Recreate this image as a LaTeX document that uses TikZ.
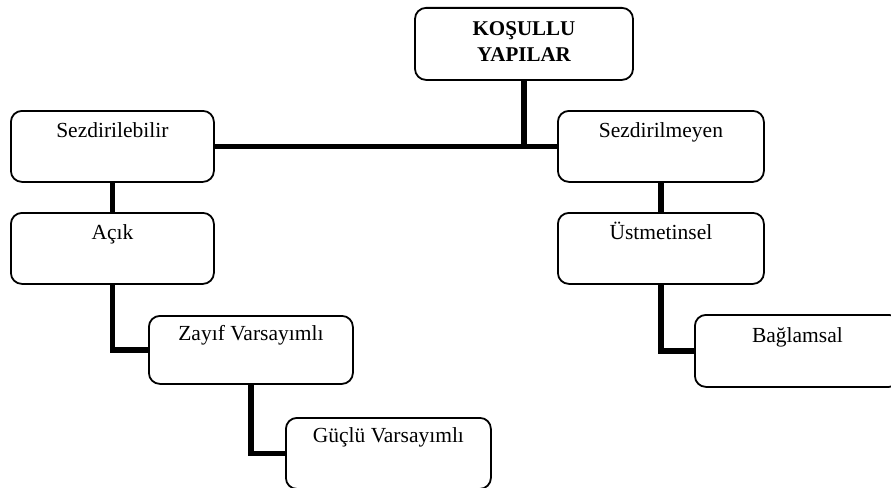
\documentclass[tikz,border=0pt]{standalone}
\usepackage{fontspec}
\setmainfont{Liberation Serif}
\tikzset{
  box/.style={draw=black, line width=1.8pt, rounded corners=11pt, fill=white,
    inner sep=0pt, anchor=north west, align=center,
    font=\fontsize{21.5}{25}\selectfont, text height=27pt, text depth=44pt},
  conn/.style={line width=5.8pt, draw=black},
}
\begin{document}
\begin{tikzpicture}[x=1pt,y=-1pt]
\useasboundingbox (0,0) rectangle (891,487);
% nodes
\node[box, anchor=north, text height=54pt, text depth=18pt, minimum width=218pt,
      font=\fontsize{21}{26}\selectfont\bfseries] (kosul) at (524,7) {KOŞULLU\\YAPILAR};
\node[box, minimum width=203pt] (sezb) at (10,110) {Sezdirilebilir};
\node[box, minimum width=203pt] (acik) at (10,212) {Açık};
\node[box, minimum width=206pt] (sezm) at (557,110) {Sezdirilmeyen};
\node[box, minimum width=206pt] (ust) at (557,212) {Üstmetinsel};
\node[box, minimum width=204pt, text height=25pt, text depth=43pt] (zayif) at (148,315) {Zayıf Varsayımlı};
\node[box, minimum width=205pt, text height=25pt, text depth=46pt] (guclu) at (285,417) {Güçlü Varsayımlı};
\node[box, minimum width=205pt, text height=28pt, text depth=44pt] (bag) at (694,314) {Bağlamsal};
% connectors
\draw[conn] (sezb.east) -- (sezm.west);
\draw[conn] (kosul.south) -- (kosul.south |- sezb.east);
\draw[conn] (sezb.south) -- (acik.north);
\draw[conn] (sezm.south) -- (ust.north);
\draw[conn] (acik.south) |- (zayif.west);
\draw[conn] (zayif.south) |- (guclu.west);
\draw[conn] (ust.south) |- (bag.west);
\end{tikzpicture}
\end{document}
